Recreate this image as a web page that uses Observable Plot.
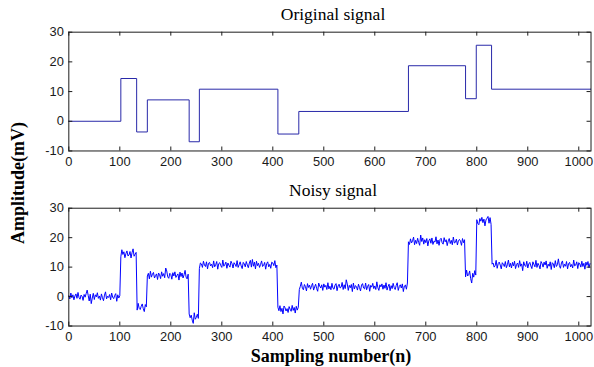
<!DOCTYPE html>
<html><head><meta charset="utf-8">
<script src="https://cdn.jsdelivr.net/npm/d3@7"></script>
<script src="https://cdn.jsdelivr.net/npm/@observablehq/plot@0.6"></script>
<style>
html,body{margin:0;padding:0;background:#fff;}
#wrap{position:relative;width:594px;height:367px;overflow:hidden;background:#fff;}
#wrap svg{position:absolute;left:0;}
</style></head><body><div id="wrap"></div><script>
// ---- data ----
const panelTitles = ["Original signal", "Noisy signal"];
const xLabel = "Sampling number(n)";
const yLabel = "Amplitude(mV)";
const xTicks = [0, 100, 200, 300, 400, 500, 600, 700, 800, 900, 1000];
const yTicks = [-10, 0, 10, 20, 30];
const xDomain = [0, 1024];
const yDomain = [-10, 30];
// piecewise-constant original signal: segment start sample and level (mV)
const segStart = [0, 102, 133, 154, 236, 256, 410, 451, 666, 778, 799, 829];
const segLevel = [0, 14.4, -3.6, 7.2, -6.9, 10.8, -4.3, 3.3, 18.7, 7.6, 25.6, 10.8];
const lastSample = 1024;
// noise read as deviations (tenths of mV), one value every 2nd sample
const noiseStep = 2;
const noise = [
3,-8,12,-4,6,-11,2,9,-6,14,-3,-9,5,1,-13,7,-2,10,22,4,-15,8,-24,-5,11,-10,6,-1,13,-6,2,-12,
9,-4,-14,5,16,-8,1,-3,7,-11,12,-2,-7,4,10,-16,6,-5,3,-9,15,-1,8,-12,2,11,-6,-3,9,-13,5,18,
-7,0,6,-10,13,-4,-8,3,11,-5,-15,9,1,-2,7,-12,14,-6,4,10,-9,-1,5,-14,8,2,-11,12,-3,6,-8,25,
15,-5,-10,7,3,-13,9,-2,12,-7,0,5,-16,11,-4,8,-9,2,17,-6,-12,4,10,-3,6,-11,-22,14,-8,-2,9,-5,
-13,6,3,-9,12,-1,-6,10,-14,5,8,-4,2,-10,13,-7,0,11,-15,4,7,-3,-9,16,-5,1,9,-12,6,-2,-8,12,
4,-11,7,2,-6,14,-9,0,10,-4,-13,8,3,-7,11,-1,-10,6,15,-8,18,-5,9,-14,12,-3,5,-9,1,13,-6,-2,
8,-15,4,10,-7,1,-12,9,6,-3,14,-10,-1,7,-5,12,-8,3,-16,11,5,-6,2,-11,9,0,-7,13,-4,6,-13,10,
-3,7,-9,2,16,-5,-10,8,1,-14,11,-2,6,-8,4,12,-11,0,9,-6,-15,13,3,-4,7,-12,10,-1,5,-9,14,-7,
2,-10,12,-5,-8,6,11,-13,3,9,-4,-1,15,-9,7,-6,24,10,-12,5,-3,8,-16,13,-7,4,1,-11,9,-2,-14,6,
11,-4,-7,13,-10,2,8,-15,5,-1,12,-6,3,-9,17,-3,-12,7,0,10,-8,6,-5,14,-11,1,9,-13,4,-6,12,-2,
-9,5,14,-12,1,7,-4,10,-16,3,6,-8,13,-1,-10,9,-5,2,15,-11,4,-7,11,-3,-13,22,0,12,-9,6,-4,10,
-15,3,9,-6,12,-10,1,-2,16,-8,5,-13,7,11,-4,-9,13,-1,6,-14,2,10,-7,4,-11,15,-5,-3,8,-12,3,7,
1,-13,10,-4,6,-9,14,-6,-2,11,-15,-30,3,-10,12,-3,5,-8,-12,9,0,13,-5,7,-16,4,10,16,-7,12,-11,2,
6,-8,-3,15,-12,4,9,-1,-14,7,2,-6,11,-10,0,16,-7,5,-11,8,-4,12,-13,1,6,-9,14,-5,3,-20,10,-2,
-6,12,-11,3,8,-4,-13,10,1,-7,15,-9,5,-2,-14,11,4,-8,9,-1,13,-12,2,-5,10,-16,7,3,-10,14,-6,0,
20,-3,-12,6,13,-9,2,-5,11,-14,4,8,-7,1,-11,16,-4,-1,10,-13,7,3,-8,12,-6,5,-15,9,-2,11,-10,4
];

// ---- build tables ----
function levelAt(n) {
  let k = 0;
  for (let i = 0; i < segStart.length; i++) if (segStart[i] <= n) k = i;
  return segLevel[k];
}
const original = segStart.map((s, i) => ({x: s, y: segLevel[i]}))
  .concat([{x: lastSample, y: segLevel[segLevel.length - 1]}]);
const noisy = noise.map((e, i) => {
  const n = i * noiseStep;
  return {x: n, y: levelAt(n) + e / 10};
});

// ---- drawing ----
const W = 600, ML = 69, MR = 3.5;
const ink = "#1a1a1a";
function panel(data, stroke, curve, h, mt, mb) {
  const fw = W - ML - MR, fh = h - mt - mb;
  return Plot.plot({
    width: W, height: h,
    marginLeft: ML, marginRight: MR, marginTop: mt, marginBottom: mb,
    x: {domain: xDomain}, y: {domain: yDomain},
    style: {fontFamily: "'Liberation Sans', Arial, sans-serif", fontSize: "13px", color: ink, background: "transparent"},
    marks: [
      Plot.line(data, {x: "x", y: "y", stroke, strokeWidth: 1, curve}),
      Plot.frame({stroke: ink, strokeWidth: 1}),
      Plot.tickX(xTicks, {x: d => d, insetTop: fh - 4, stroke: ink}),
      Plot.tickX(xTicks, {x: d => d, insetBottom: fh - 4, stroke: ink}),
      Plot.tickY(yTicks, {y: d => d, insetRight: fw - 4, stroke: ink}),
      Plot.tickY(yTicks, {y: d => d, insetLeft: fw - 4, stroke: ink}),
      Plot.axisX(xTicks, {tickSize: 0, tickPadding: 6, tickFormat: d => String(d), label: null}),
      Plot.axisY(yTicks, {tickSize: 0, tickPadding: 5, tickFormat: d => String(d), label: null})
    ]
  });
}
const wrap = document.getElementById("wrap");
const top1 = panel(original, "#2626a8", "step-after", 180, 32, 28);
top1.style.top = "0px";
const top2 = panel(noisy, "#0000ff", "linear", 187, 28, 40);
top2.style.top = "180px";
wrap.appendChild(top1);
wrap.appendChild(top2);

// overlay texts
const ov = d3.select(wrap).append("svg").attr("width", 594).attr("height", 367).style("top", "0px");
const serif = "'Liberation Serif', 'Times New Roman', serif";
ov.append("text").attr("x", 333).attr("y", 20).attr("text-anchor", "middle")
  .attr("font-family", serif).attr("font-size", 17.5).text(panelTitles[0]);
ov.append("text").attr("x", 333).attr("y", 196).attr("text-anchor", "middle")
  .attr("font-family", serif).attr("font-size", 17.5).text(panelTitles[1]);
ov.append("text").attr("x", 331).attr("y", 362).attr("text-anchor", "middle")
  .attr("font-family", serif).attr("font-size", 18).attr("font-weight", "bold").text(xLabel);
ov.append("text").attr("transform", "translate(24,183) rotate(-90)").attr("text-anchor", "middle")
  .attr("font-family", serif).attr("font-size", 18).attr("font-weight", "bold").text(yLabel);
</script></body></html>
